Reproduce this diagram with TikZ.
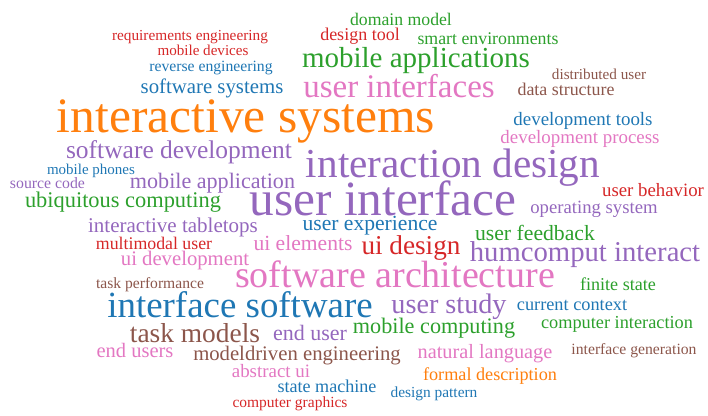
\documentclass[tikz,border=0pt]{standalone}
\usepackage{fontspec}
\setmainfont{Liberation Serif}
\definecolor{tabblue}{HTML}{1F77B4}
\definecolor{taborange}{HTML}{FF7F0E}
\definecolor{tabgreen}{HTML}{2CA02C}
\definecolor{tabred}{HTML}{D62728}
\definecolor{tabpurple}{HTML}{9467BD}
\definecolor{tabbrown}{HTML}{8C564B}
\definecolor{tabpink}{HTML}{E377C2}
\tikzset{word/.style={font=\fontsize{#1}{#1}\selectfont, inner sep=0pt, anchor=base}}
\begin{document}
\begin{tikzpicture}[x=1pt, y=-1pt]
                    \useasboundingbox (0,0) rectangle (708,415);
                    % top rows
                    \node[word=15.3, tabred]    (reqeng)          at (190,  40) {requirements engineering};
                    \node[word=18.0, tabred]    (designtool)      at (360,  40) {design tool};
                    \node[word=17.7, tabgreen]  (domainmodel)     at (401,  25) {domain model};
                    \node[word=17.8, tabgreen]  (smartenv)        at (488,  44) {smart environments};
                    \node[word=15.1, tabred]    (mobiledevices)   at (203,  55) {mobile devices};
                    \node[word=29.0, tabgreen]  (mobileapps)      at (416,  67) {mobile applications};
                    \node[word=15.7, tabblue]   (reverseeng)      at (211,  71) {reverse engineering};
                    \node[word=15.2, tabbrown]  (distuser)        at (599,  79) {distributed user};
                    \node[word=20.8, tabblue]   (softsystems)     at (212,  93) {software systems};
                    \node[word=33.0, tabpink]   (userinterfaces)  at (399,  97) {user interfaces};
                    \node[word=17.9, tabbrown]  (datastruct)      at (566,  95) {data structure};
                    \node[word=49.5, taborange] (intsystems)      at (246, 132) {interactive systems};
                    \node[word=18.9, tabblue]   (devtools)        at (583, 125) {development tools};
                    \node[word=18.9, tabpink]   (devprocess)      at (580, 143) {development process};

                    % middle rows
                    \node[word=25.5, tabpurple] (softdev)         at (179, 158) {software development};
                    \node[word=41.2, tabpurple] (intdesign)       at (453, 177) {interaction design};
                    \node[word=15.0, tabblue]   (mobilephones)    at ( 91, 174) {mobile phones};
                    \node[word=15.8, tabpurple] (sourcecode)      at ( 47.5, 188) {source code};
                    \node[word=22.1, tabpurple] (mobileapp)       at (212.5, 188) {mobile application};
                    \node[word=18.8, tabred]    (userbehavior)    at (653, 196) {user behavior};
                    \node[word=49.3, tabpurple] (userinterface)   at (383, 215) {user interface};
                    \node[word=22.4, tabgreen]  (ubicomp)         at (123, 207) {ubiquitous computing};
                    \node[word=18.7, tabpurple] (opsystem)        at (594, 213) {operating system};
                    \node[word=21.0, tabpurple] (inttabletops)    at (173, 232) {interactive tabletops};
                    \node[word=21.6, tabblue]   (userexp)         at (370, 230) {user experience};
                    \node[word=21.7, tabgreen]  (userfeedback)    at (535, 240) {user feedback};
                    \node[word=17.8, tabred]    (multimodal)      at (154, 249) {multimodal user};
                    \node[word=21.6, tabpink]   (uielements)      at (303, 250) {ui elements};
                    \node[word=27.2, tabred]    (uidesign)        at (411, 254) {ui design};
                    \node[word=28.7, tabpurple] (humcomput)       at (585, 261) {humcomput interact};
                    \node[word=20.7, tabpink]   (uidev)           at (185, 265) {ui development};

                    % bottom rows
                    \node[word=15.6, tabbrown]  (taskperf)        at (150, 288) {task performance};
                    \node[word=38.0, tabpink]   (softarch)        at (395, 287) {software architecture};
                    \node[word=18.1, tabgreen]  (finitestate)     at (618, 290) {finite state};
                    \node[word=36.9, tabblue]   (intsoftware)     at (240, 317) {interface software};
                    \node[word=28.2, tabpurple] (userstudy)       at (449, 313) {user study};
                    \node[word=18.3, tabblue]   (curcontext)      at (572, 310) {current context};
                    \node[word=27.4, tabbrown]  (taskmodels)      at (195, 342) {task models};
                    \node[word=22.0, tabpurple] (enduser)         at (310, 340) {end user};
                    \node[word=22.2, tabgreen]  (mobilecomp)      at (434, 333) {mobile computing};
                    \node[word=18.3, tabgreen]  (compinteraction) at (617, 328) {computer interaction};
                    \node[word=20.5, tabpink]   (endusers)        at (135, 357) {end users};
                    \node[word=20.7, tabbrown]  (mde)             at (297, 360) {modeldriven engineering};
                    \node[word=20.3, tabpink]   (natlang)         at (485, 358) {natural language};
                    \node[word=15.7, tabbrown]  (intgen)          at (634, 354) {interface generation};
                    \node[word=18.9, tabpink]   (abstractui)      at (271, 377) {abstract ui};
                    \node[word=18.2, taborange] (formaldesc)      at (490, 380) {formal description};
                    \node[word=18.1, tabblue]   (statemachine)    at (327, 392) {state machine};
                    \node[word=15.4, tabblue]   (designpattern)   at (434, 397) {design pattern};
                    \node[word=15.5, tabred]    (compgraphics)    at (290, 407) {computer graphics};
\end{tikzpicture}
\end{document}
